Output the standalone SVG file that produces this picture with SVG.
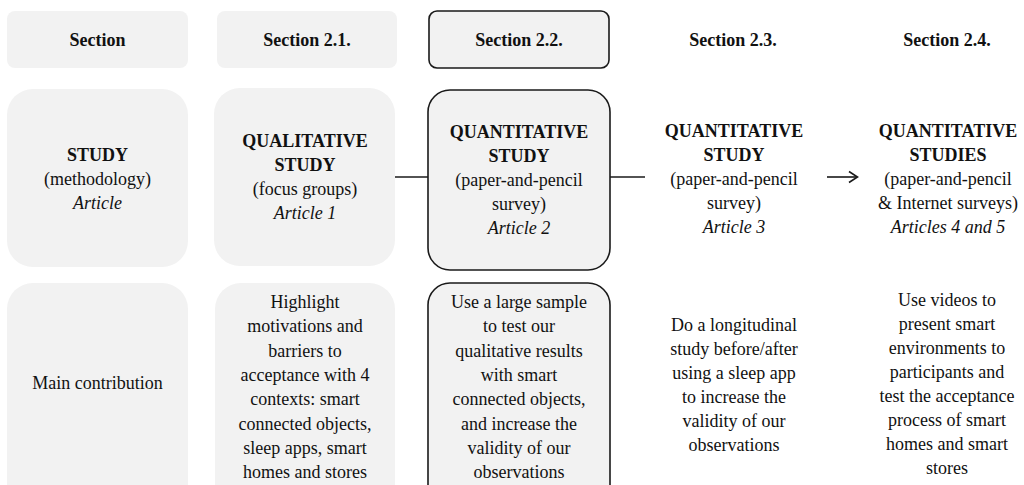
<svg xmlns="http://www.w3.org/2000/svg" width="1024" height="485" viewBox="0 0 1024 485" font-family="Liberation Serif, Times New Roman, Noto Serif, DejaVu Serif, serif">
<style>
.box{fill:#f2f2f2;stroke:none}
.sel{fill:#f2f2f2;stroke:#1a1a1a;stroke-width:1.6}
text{font-size:18px;fill:#111;text-anchor:middle}
.b{font-weight:bold}
.i{font-style:italic}
.con{stroke:#1a1a1a;stroke-width:1.6;fill:none}
</style>
<rect width="1024" height="485" fill="#ffffff"/>
<g id="h0"><rect class="box" x="7" y="11" width="181" height="57" rx="8"/><text class="b" x="97.5" y="46">Section</text></g>
<g id="h1"><rect class="box" x="217" y="11" width="180" height="57" rx="8"/><text class="b" x="307" y="46">Section 2.1.</text></g>
<g id="h2"><rect class="sel" x="429" y="11" width="180" height="57" rx="8"/><text class="b" x="519" y="46">Section 2.2.</text></g>
<g id="h3"><text class="b" x="733" y="46">Section 2.3.</text></g>
<g id="h4"><text class="b" x="947" y="46">Section 2.4.</text></g>

<g id="s0"><rect class="box" x="7" y="89" width="181" height="178" rx="26"/>
<text x="97.5"><tspan class="b" x="97.5" y="161">STUDY</tspan><tspan x="97.5" y="185">(methodology)</tspan><tspan class="i" x="97.5" y="209">Article</tspan></text></g>
<g id="s1"><rect class="box" x="214" y="88" width="181" height="178" rx="26"/>
<text x="305"><tspan class="b" x="305" y="147">QUALITATIVE</tspan><tspan class="b" x="305" y="171">STUDY</tspan><tspan x="305" y="195">(focus groups)</tspan><tspan class="i" x="305" y="219">Article 1</tspan></text></g>
<g id="s2"><rect class="sel" x="428" y="90" width="182" height="180" rx="22"/>
<text x="519"><tspan class="b" x="519" y="138">QUANTITATIVE</tspan><tspan class="b" x="519" y="162">STUDY</tspan><tspan x="519" y="186">(paper-and-pencil</tspan><tspan x="519" y="210">survey)</tspan><tspan class="i" x="519" y="234">Article 2</tspan></text></g>
<g id="s3">
<text x="734"><tspan class="b" x="734" y="137">QUANTITATIVE</tspan><tspan class="b" x="734" y="161">STUDY</tspan><tspan x="734" y="185">(paper-and-pencil</tspan><tspan x="734" y="209">survey)</tspan><tspan class="i" x="734" y="233">Article 3</tspan></text></g>
<g id="s4">
<text x="948"><tspan class="b" x="948" y="137">QUANTITATIVE</tspan><tspan class="b" x="948" y="161">STUDIES</tspan><tspan x="948" y="185">(paper-and-pencil</tspan><tspan x="948" y="209">&amp; Internet surveys)</tspan><tspan class="i" x="948" y="233">Articles 4 and 5</tspan></text></g>

<g id="c0"><rect class="box" x="7" y="283" width="181" height="240" rx="26"/>
<text x="97.5" y="389">Main contribution</text></g>
<g id="c1"><rect class="box" x="215" y="283" width="180" height="240" rx="26"/>
<text x="305"><tspan x="305" y="308">Highlight</tspan><tspan x="305" y="332.3">motivations and</tspan><tspan x="305" y="356.6">barriers to</tspan><tspan x="305" y="380.9">acceptance with 4</tspan><tspan x="305" y="405.2">contexts: smart</tspan><tspan x="305" y="429.5">connected objects,</tspan><tspan x="305" y="453.8">sleep apps, smart</tspan><tspan x="305" y="478.1">homes and stores</tspan></text></g>
<g id="c2"><rect class="sel" x="428" y="283" width="182" height="240" rx="22"/>
<text x="519"><tspan x="519" y="308">Use a large sample</tspan><tspan x="519" y="332.3">to test our</tspan><tspan x="519" y="356.6">qualitative results</tspan><tspan x="519" y="380.9">with smart</tspan><tspan x="519" y="405.2">connected objects,</tspan><tspan x="519" y="429.5">and increase the</tspan><tspan x="519" y="453.8">validity of our</tspan><tspan x="519" y="478.1">observations</tspan></text></g>
<g id="c3">
<text x="734"><tspan x="734" y="331">Do a longitudinal</tspan><tspan x="734" y="355">study before/after</tspan><tspan x="734" y="379">using a sleep app</tspan><tspan x="734" y="403">to increase the</tspan><tspan x="734" y="427">validity of our</tspan><tspan x="734" y="451">observations</tspan></text></g>
<g id="c4">
<text x="947"><tspan x="947" y="306">Use videos to</tspan><tspan x="947" y="330">present smart</tspan><tspan x="947" y="354">environments to</tspan><tspan x="947" y="378">participants and</tspan><tspan x="947" y="402">test the acceptance</tspan><tspan x="947" y="426">process of smart</tspan><tspan x="947" y="450">homes and smart</tspan><tspan x="947" y="474">stores</tspan></text></g>

<g id="connectors">
<line class="con" x1="395" y1="177" x2="428" y2="177"/>
<line class="con" x1="610" y1="177" x2="645" y2="177"/>
<line class="con" x1="827" y1="177" x2="857" y2="177"/>
<polyline class="con" points="849,171.5 857.5,177 849,182.5"/>
</g>
</svg>
